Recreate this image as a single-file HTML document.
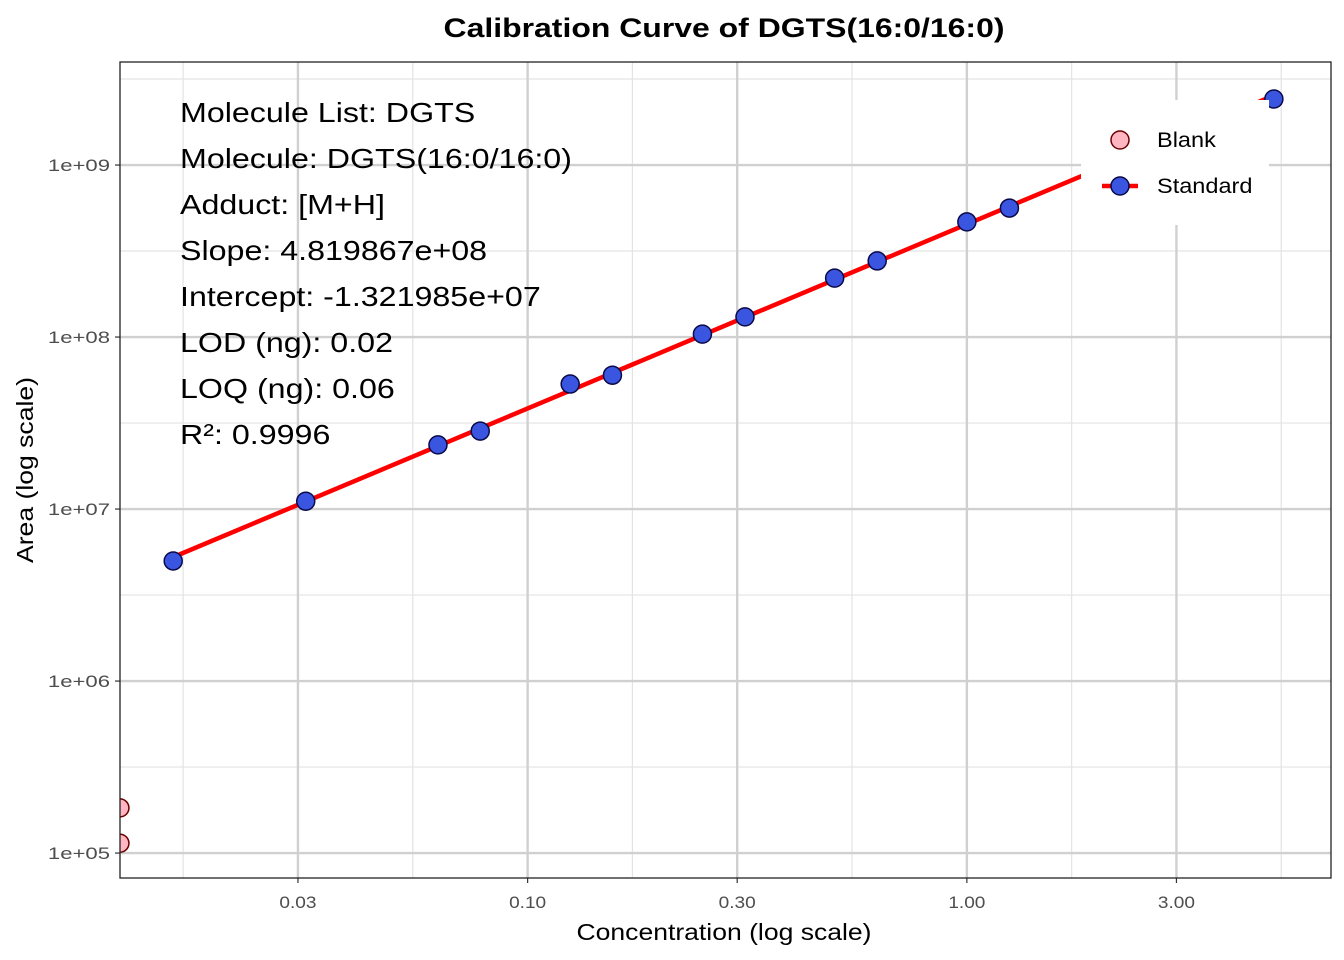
<!DOCTYPE html>
<html><head><meta charset="utf-8">
<style>body{margin:0;background:#fff}svg{display:block;font-family:"Liberation Sans",Arial,sans-serif}</style>
</head><body>
<svg id="chart" width="1344" height="960"></svg>
<script>
const stdConc=[0.0156,0.03125,0.0625,0.078,0.125,0.156,0.25,0.3125,0.5,0.625,1.0,1.25,5.0];
const stdArea=[4.99e6,1.11e7,2.36e7,2.84e7,5.33e7,6.0e7,1.04e8,1.31e8,2.2e8,2.77e8,4.67e8,5.62e8,2.42e9];
const blankConc=[0.0118,0.0118];
const blankArea=[1.83e5,1.14e5];
const xTicks=[0.03,0.1,0.3,1,3];
const xTickLabels=["0.03","0.10","0.30","1.00","3.00"];
const yTicks=[1e5,1e6,1e7,1e8,1e9];
const yTickLabels=["1e+05","1e+06","1e+07","1e+08","1e+09"];
const infoLines=["Molecule List: DGTS","Molecule: DGTS(16:0/16:0)","Adduct: [M+H]","Slope: 4.819867e+08","Intercept: -1.321985e+07","LOD (ng): 0.02","LOQ (ng): 0.06","R²: 0.9996"];

const L=120,R=1331,T=62,B=878;
const xMin=-1.928,xMax=0.829,yMin=4.855,yMax=9.599;
const sx=v=>L+(Math.log10(v)-xMin)/(xMax-xMin)*(R-L);
const sy=v=>B-(Math.log10(v)-yMin)/(yMax-yMin)*(B-T);
const svg=document.getElementById('chart');
const NS='http://www.w3.org/2000/svg';
function mk(tag,attrs,parent){const e=document.createElementNS(NS,tag);for(const k in attrs)e.setAttribute(k,attrs[k]);(parent||svg).appendChild(e);return e;}
function widen(t,f){const w=t.getComputedTextLength();t.setAttribute('textLength',w*f);t.setAttribute('lengthAdjust','spacingAndGlyphs');}

const grid=mk('g',{});


for(let i=0;i<xTicks.length+1;i++){
  const a=i==0?Math.log10(xTicks[0])-(Math.log10(xTicks[1])-Math.log10(xTicks[0]))/2:(i==xTicks.length?Math.log10(xTicks[i-1])+(Math.log10(xTicks[i-1])-Math.log10(xTicks[i-2]))/2:(Math.log10(xTicks[i-1])+Math.log10(xTicks[i]))/2);
  const x=sx(Math.pow(10,a));
  if(x>L&&x<R)mk('line',{x1:x,x2:x,y1:T,y2:B,stroke:'#e3e3e3','stroke-width':1.2},grid);
}
for(let i=0;i<=yTicks.length;i++){
  const a=Math.log10(yTicks[0])-0.5+i;
  const y=sy(Math.pow(10,a));
  if(y>T&&y<B)mk('line',{x1:L,x2:R,y1:y,y2:y,stroke:'#e3e3e3','stroke-width':1.2},grid);
}
xTicks.forEach((t,i)=>{const x=sx(t);
  mk('line',{x1:x,x2:x,y1:T,y2:B,stroke:'#d0d0d0','stroke-width':2.4},grid);
  mk('line',{x1:x,x2:x,y1:B,y2:B+5,stroke:'#333','stroke-width':1.2});
  const tx=mk('text',{x:x,y:B+30,'text-anchor':'middle','font-size':17,fill:'#4d4d4d'});
  tx.textContent=xTickLabels[i];
  
  
  widen(tx,1.12);
});
yTicks.forEach((t,i)=>{const y=sy(t);
  mk('line',{x1:L,x2:R,y1:y,y2:y,stroke:'#d0d0d0','stroke-width':2.4},grid);
  mk('line',{x1:L-5,x2:L,y1:y,y2:y,stroke:'#333','stroke-width':1.2});
  const tx=mk('text',{x:L-10,y:y+6,'text-anchor':'end','font-size':17,fill:'#4d4d4d'});
  tx.textContent=yTickLabels[i];
  
  
  widen(tx,1.3);
});

const lx=stdConc.map(Math.log10),ly=stdArea.map(Math.log10);
const n=lx.length,mx=lx.reduce((a,b)=>a+b)/n,my=ly.reduce((a,b)=>a+b)/n;
let num=0,den=0;for(let i=0;i<n;i++){num+=(lx[i]-mx)*(ly[i]-my);den+=(lx[i]-mx)**2;}
const b1=num/den,b0=my-b1*mx;
const x0=Math.min(...stdConc),x1=Math.max(...stdConc);
const fit=mk('line',{x1:sx(x0),y1:sy(Math.pow(10,b0+b1*Math.log10(x0))),x2:sx(x1),y2:sy(Math.pow(10,b0+b1*Math.log10(x1))),stroke:'#ff0000','stroke-width':4.5});



const clip=mk('clipPath',{id:'pc'});mk('rect',{x:L,y:T,width:R-L,height:B-T},clip);
stdConc.forEach((c,i)=>{const p=mk('circle',{cx:sx(c),cy:sy(stdArea[i]),r:9,fill:'#3a56e0',stroke:'#0a0a4a','stroke-width':1.5});
  
  });
blankConc.forEach((c,i)=>{const p=mk('circle',{cx:sx(c),cy:sy(blankArea[i]),r:9,fill:'#ffb6c1',stroke:'#6b0000','stroke-width':1.5,'clip-path':'url(#pc)'});
  
  });

const lg=mk('g',{});


mk('rect',{x:1081,y:100,width:188,height:125,fill:'#fff'},lg);
mk('circle',{cx:1120,cy:140,r:9,fill:'#ffb6c1',stroke:'#6b0000','stroke-width':1.5},lg);
mk('line',{x1:1102,x2:1138,y1:186,y2:186,stroke:'#ff0000','stroke-width':4.5},lg);
mk('circle',{cx:1120,cy:186,r:9,fill:'#3a56e0',stroke:'#0a0a4a','stroke-width':1.5},lg);
const t1=mk('text',{x:1157,y:147,'font-size':21},lg);t1.textContent='Blank';


widen(t1,1.12);
const t2=mk('text',{x:1157,y:193,'font-size':21},lg);t2.textContent='Standard';


widen(t2,1.12);

mk('rect',{x:L,y:T,width:R-L,height:B-T,fill:'none',stroke:'#222','stroke-width':1.3});

infoLines.forEach((s,i)=>{const t=mk('text',{x:180,y:122+i*46,'font-size':28,fill:'#000'});t.textContent=s;
  
  
  widen(t,1.15);});

const title=mk('text',{x:724,y:37,'text-anchor':'middle','font-size':27,'font-weight':'bold'});title.textContent='Calibration Curve of DGTS(16:0/16:0)';


title.setAttribute('textLength',561);title.setAttribute('lengthAdjust','spacingAndGlyphs');
const xt=mk('text',{x:724,y:940,'text-anchor':'middle','font-size':23});xt.textContent='Concentration (log scale)';


xt.setAttribute('textLength',295);xt.setAttribute('lengthAdjust','spacingAndGlyphs');
const yt=mk('text',{x:0,y:0,'text-anchor':'middle','font-size':23,transform:'translate(33,470) rotate(-90)'});yt.textContent='Area (log scale)';


yt.setAttribute('textLength',186);yt.setAttribute('lengthAdjust','spacingAndGlyphs');
</script>
</body></html>
